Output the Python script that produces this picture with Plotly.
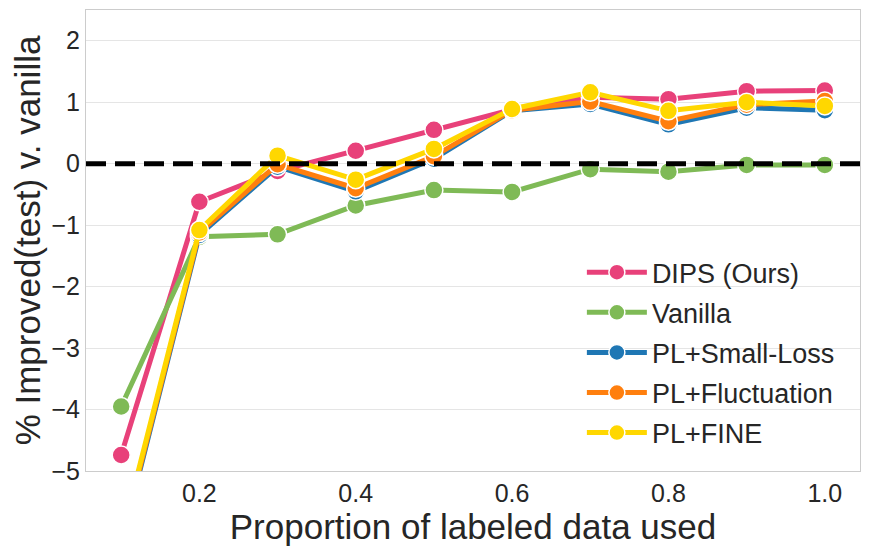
import plotly.graph_objects as go

# proportion of labeled data used
proportions = [0.1, 0.2, 0.3, 0.4, 0.5, 0.6, 0.7, 0.8, 0.9, 1.0]

# % improved (test) v. vanilla
dips = [-4.74, -0.62, -0.12, 0.21, 0.55, 0.88, 1.08, 1.05, 1.18, 1.19]
vanilla = [-3.95, -1.19, -1.15, -0.68, -0.43, -0.46, -0.09, -0.13, -0.02, -0.02]
pl_small_loss = [-6.2, -1.16, -0.05, -0.45, 0.08, 0.86, 0.97, 0.64, 0.91, 0.87]
pl_fluctuation = [-6.15, -1.12, -0.01, -0.40, 0.12, 0.87, 1.01, 0.69, 0.96, 1.02]
pl_fine = [-6.1, -1.08, 0.13, -0.26, 0.24, 0.89, 1.16, 0.86, 1.00, 0.94]

series = [
    ('DIPS (Ours)', dips, '#E8417A'),
    ('Vanilla', vanilla, '#7FBA56'),
    ('PL+Small-Loss', pl_small_loss, '#1F77B4'),
    ('PL+Fluctuation', pl_fluctuation, '#FF7F0E'),
    ('PL+FINE', pl_fine, '#FFD700'),
]

x_ticks = [0.2, 0.4, 0.6, 0.8, 1.0]
y_ticks = [-5, -4, -3, -2, -1, 0, 1, 2]

font_family = 'Liberation Sans, Arial, sans-serif'

fig = go.Figure()
for i, (name, vals, color) in enumerate(series):
    fig.add_trace(go.Scatter(
        x=proportions,
        y=vals,
        mode='lines+markers',
        name=name,
        legendgroup=str(i),
        line=dict(color=color, width=5),
        marker=dict(size=18, color=color, line=dict(color='white', width=1.5)),
    ))

# dashed reference line at zero
fig.add_hline(y=0, line=dict(color='black', width=5, dash='20px,9px'), layer='above')

# page body has an 8px margin, so the figure is 8px smaller than the window
fig.update_layout(
    width=862,
    height=543,
    margin=dict(l=78, r=10, t=2, b=80, autoexpand=False),
    paper_bgcolor='white',
    plot_bgcolor='white',
    font=dict(family=font_family, color='#262626'),
    showlegend=True,
    legend=dict(
        x=0.974, y=0.03, xanchor='right', yanchor='bottom',
        bgcolor='rgba(0,0,0,0)',
        font=dict(size=27, color='#262626'),
        traceorder='grouped',
        tracegroupgap=2,
        itemwidth=60,
    ),
    xaxis=dict(
        range=[0.055, 1.045],
        tickvals=x_ticks,
        ticktext=[f'{v:.1f}' for v in x_ticks],
        tickfont=dict(size=25),
        title=dict(text='Proportion of labeled data used', font=dict(size=35), standoff=4),
        showgrid=False,
        zeroline=False,
        showline=True, mirror=True, linecolor='#cccccc', linewidth=1.2,
        ticks='',
    ),
    yaxis=dict(
        range=[-5, 2.5],
        tickvals=y_ticks,
        tickfont=dict(size=25),
        title=dict(text='% Improved(test) v. vanilla', font=dict(size=35), standoff=6),
        showgrid=True, gridcolor='#e5e5e5', gridwidth=1.2,
        zeroline=False,
        showline=True, mirror=True, linecolor='#cccccc', linewidth=1.2,
        ticks='',
    ),
)

fig.write_html('out.html')
